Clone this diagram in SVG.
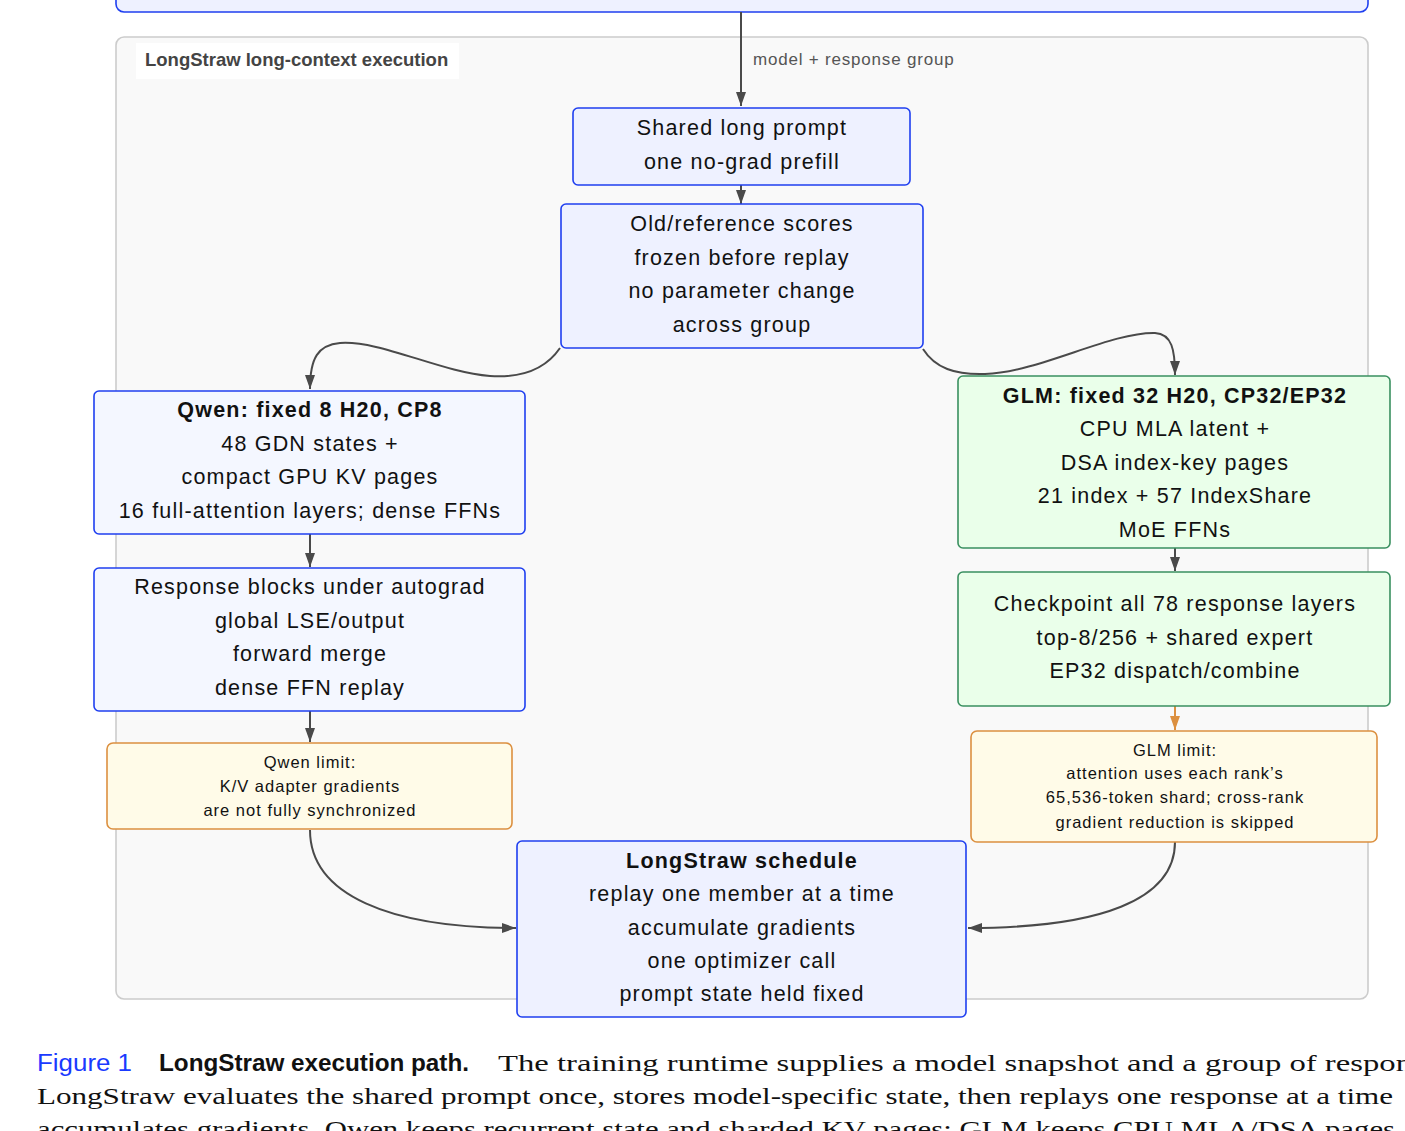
<svg xmlns="http://www.w3.org/2000/svg" width="1405" height="1131" viewBox="0 0 1405 1131">
<style>
.t{font-family:"Liberation Sans",Arial,sans-serif;font-size:21.5px;letter-spacing:1.2px;fill:#111;text-anchor:middle}
.b{font-weight:bold}
.s{font-family:"Liberation Sans",Arial,sans-serif;font-size:16.5px;letter-spacing:1px;fill:#111;text-anchor:middle}
.blue{fill:#eef1ff;stroke:#1f3ff0;stroke-width:1.6}
.lblue{fill:#f4f7ff;stroke:#1f3ff0;stroke-width:1.6}
.green{fill:#eaffea;stroke:#3a9060;stroke-width:1.6}
.warn{fill:#fffbe8;stroke:#dc9040;stroke-width:1.6}
.e{fill:none;stroke:#4a4a4a;stroke-width:2}
.cap{font-family:"Liberation Serif","Times New Roman",serif;font-size:24px;fill:#111}
</style>
<defs>
<marker id="ah" viewBox="0 0 14 10" refX="14" refY="5" markerWidth="14" markerHeight="10" markerUnits="userSpaceOnUse" orient="auto"><path d="M0,0 L14,5 L0,10 z" fill="#4a4a4a"/></marker>
<marker id="aho" viewBox="0 0 14 10" refX="14" refY="5" markerWidth="14" markerHeight="10" markerUnits="userSpaceOnUse" orient="auto"><path d="M0,0 L14,5 L0,10 z" fill="#dc9040"/></marker>
</defs>
<rect width="1405" height="1131" fill="#ffffff"/>
<g id="top">
<rect x="116" y="-30" width="1252" height="42" rx="8" class="blue"/>
</g>
<g id="cluster">
<rect x="116" y="37" width="1252" height="962" rx="8" fill="#f9f9f9" stroke="#cccccc" stroke-width="1.6"/>
<rect x="136" y="43" width="323" height="36" fill="#ffffff"/>
<text x="145" y="66" font-family="Liberation Sans,Arial,sans-serif" font-size="18.5" font-weight="bold" fill="#444">LongStraw long-context execution</text>
</g>
<g id="connectors">
<path class="e" d="M741,12 L741,106" marker-end="url(#ah)"/>
<text x="753" y="65" font-family="Liberation Sans,Arial,sans-serif" font-size="17" letter-spacing="0.8" fill="#555">model + response group</text>
<path class="e" d="M741,185 L741,204" marker-end="url(#ah)"/>
<path class="e" d="M560,348 C545,370 520,378 490,376 C440,372 380,340 340,343 C318,345 310,358 310,389" marker-end="url(#ah)"/>
<path class="e" d="M923,349 C935,368 955,375 985,374 C1040,372 1110,332 1155,333 C1172,334 1175,350 1175,375" marker-end="url(#ah)"/>
<path class="e" d="M310,534 L310,567" marker-end="url(#ah)"/>
<path class="e" d="M310,711 L310,742" marker-end="url(#ah)"/>
<path class="e" d="M1175,548 L1175,571" marker-end="url(#ah)"/>
<path d="M1175,706 L1175,730" fill="none" stroke="#dc9040" stroke-width="2" marker-end="url(#aho)"/>
<path class="e" d="M310,830 C310,895 390,928 516,928" marker-end="url(#ah)"/>
<path class="e" d="M1175,842 C1175,900 1100,928 968,928" marker-end="url(#ah)"/>
</g>
<g id="shared">
<rect x="573" y="108" width="337" height="77" rx="5" class="blue"/>
<text class="t" x="742" y="135">Shared long prompt</text>
<text class="t" x="742" y="169">one no-grad prefill</text>
</g>
<g id="oldref">
<rect x="561" y="204" width="362" height="144" rx="5" class="blue"/>
<text class="t" x="742" y="231">Old/reference scores</text>
<text class="t" x="742" y="265">frozen before replay</text>
<text class="t" x="742" y="298">no parameter change</text>
<text class="t" x="742" y="332">across group</text>
</g>
<g id="qwen">
<rect x="94" y="391" width="431" height="143" rx="5" class="lblue"/>
<text class="t b" x="310" y="417">Qwen: fixed 8 H20, CP8</text>
<text class="t" x="310" y="451">48 GDN states +</text>
<text class="t" x="310" y="484">compact GPU KV pages</text>
<text class="t" x="310" y="518">16 full-attention layers; dense FFNs</text>
</g>
<g id="response">
<rect x="94" y="568" width="431" height="143" rx="5" class="lblue"/>
<text class="t" x="310" y="594">Response blocks under autograd</text>
<text class="t" x="310" y="628">global LSE/output</text>
<text class="t" x="310" y="661">forward merge</text>
<text class="t" x="310" y="695">dense FFN replay</text>
</g>
<g id="qwenlimit">
<rect x="107" y="743" width="405" height="86" rx="6" class="warn"/>
<text class="s" x="310" y="768">Qwen limit:</text>
<text class="s" x="310" y="792">K/V adapter gradients</text>
<text class="s" x="310" y="816">are not fully synchronized</text>
</g>
<g id="glm">
<rect x="958" y="376" width="432" height="172" rx="5" class="green"/>
<text class="t b" x="1175" y="403">GLM: fixed 32 H20, CP32/EP32</text>
<text class="t" x="1175" y="436">CPU MLA latent +</text>
<text class="t" x="1175" y="470">DSA index-key pages</text>
<text class="t" x="1175" y="503">21 index + 57 IndexShare</text>
<text class="t" x="1175" y="537">MoE FFNs</text>
</g>
<g id="checkpoint">
<rect x="958" y="572" width="432" height="134" rx="5" class="green"/>
<text class="t" x="1175" y="611">Checkpoint all 78 response layers</text>
<text class="t" x="1175" y="645">top-8/256 + shared expert</text>
<text class="t" x="1175" y="678">EP32 dispatch/combine</text>
</g>
<g id="glmlimit">
<rect x="971" y="731" width="406" height="111" rx="6" class="warn"/>
<text class="s" x="1175" y="756">GLM limit:</text>
<text class="s" x="1175" y="779">attention uses each rank’s</text>
<text class="s" x="1175" y="803">65,536-token shard; cross-rank</text>
<text class="s" x="1175" y="828">gradient reduction is skipped</text>
</g>
<g id="schedule">
<rect x="517" y="841" width="449" height="176" rx="5" class="blue"/>
<text class="t b" x="742" y="868">LongStraw schedule</text>
<text class="t" x="742" y="901">replay one member at a time</text>
<text class="t" x="742" y="935">accumulate gradients</text>
<text class="t" x="742" y="968">one optimizer call</text>
<text class="t" x="742" y="1001">prompt state held fixed</text>
</g>
<g id="caption">
<text x="37" y="1071" font-family="Liberation Sans,Arial,sans-serif" font-size="23" fill="#1a3aff" textLength="95" lengthAdjust="spacingAndGlyphs">Figure 1</text>
<text x="159" y="1071" font-family="Liberation Sans,Arial,sans-serif" font-size="23" font-weight="bold" fill="#111" textLength="310" lengthAdjust="spacingAndGlyphs">LongStraw execution path.</text>
<text class="cap" x="498" y="1071" textLength="914" lengthAdjust="spacingAndGlyphs">The training runtime supplies a model snapshot and a group of respon</text>
<text class="cap" x="37" y="1104" textLength="1356" lengthAdjust="spacingAndGlyphs">LongStraw evaluates the shared prompt once, stores model-specific state, then replays one response at a time</text>
<text class="cap" x="37" y="1137" textLength="1358" lengthAdjust="spacingAndGlyphs">accumulates gradients. Qwen keeps recurrent state and sharded KV pages; GLM keeps CPU MLA/DSA pages</text>
</g>
</svg>
